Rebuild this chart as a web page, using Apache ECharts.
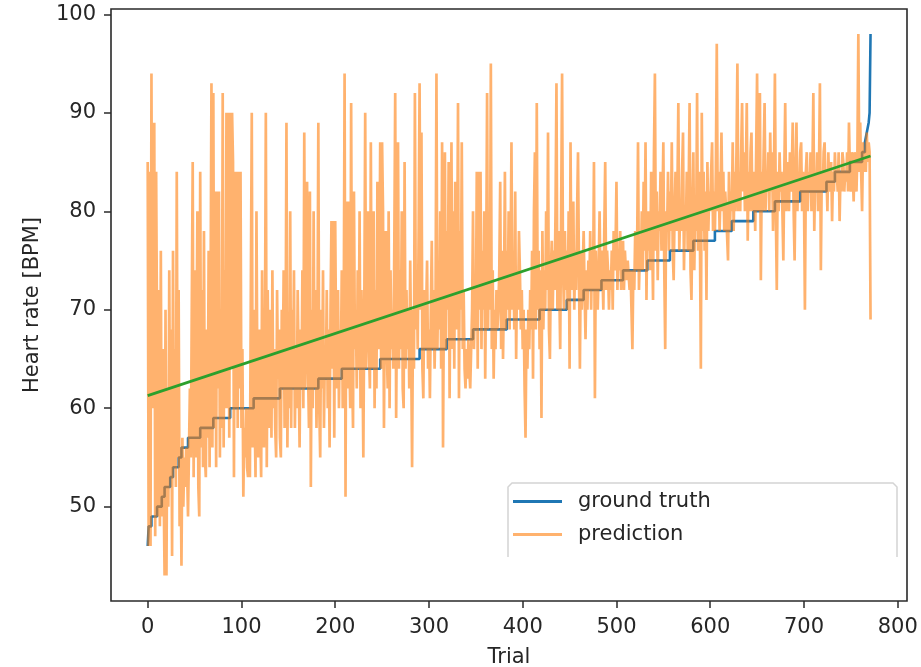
<!DOCTYPE html>
<html>
<head>
<meta charset="utf-8">
<script src="https://cdn.jsdelivr.net/npm/echarts@6/dist/echarts.min.js"></script>
<style>html,body{margin:0;padding:0;background:#fff}#c{width:921px;height:667px}</style>
</head>
<body>
<div id="c"></div>
<script>
// ---- data ----
const xTicks = [0, 100, 200, 300, 400, 500, 600, 700, 800];
const yTicks = [50, 60, 70, 80, 90, 100];

// ground truth (sorted heart rates), step breakpoints: trial where a level starts
const gtTrials = [0,1,4,10,15,18,24,27,33,36,43,56,70,88,113,141,182,207,248,290,319,347,383,418,447,465,484,507,533,557,582,605,623,646,669,696,724,733,749,762,765,767,769,770,771];
const gtValues = [46,48,49,50,51,52,53,54,55,56,57,58,59,60,61,62,63,64,65,66,67,68,69,70,71,72,73,74,75,76,77,78,79,80,81,82,83,84,85,86,87,88,89,90,98];

// prediction per trial (0..771)
const prediction = [
85,46,84,46,94,60,87,89,47,84,
84,49,72,48,76,49,66,52,43,70,
43,62,50,74,53,68,45,76,54,66,
52,84,55,72,48,56,44,57,50,55,
52,56,54,49,49,62,55,70,85,53,
74,55,66,80,52,49,84,56,72,54,
78,55,53,68,57,76,54,70,93,56,
92,58,82,54,82,62,82,55,70,58,
92,56,74,60,90,60,90,57,90,64,
90,85,53,84,60,84,58,84,62,84,
58,66,51,58,55,60,54,53,60,53,
72,90,56,70,60,53,80,62,55,68,
58,53,74,60,56,66,90,54,72,62,
58,70,57,74,60,66,58,55,72,63,
68,57,55,70,62,74,58,64,89,56,
68,60,80,58,70,62,74,58,66,60,
72,64,56,68,62,74,60,88,62,70,
83,64,58,82,52,70,60,80,62,72,
58,66,89,60,55,70,62,74,58,66,
63,72,60,68,56,70,79,64,79,57,
79,66,62,72,60,68,64,74,60,66,
94,51,81,62,81,66,60,91,64,58,
82,66,70,62,74,64,80,60,72,66,
55,70,90,64,74,80,66,62,87,64,
70,80,60,72,62,83,66,70,87,64,
87,80,58,72,78,66,62,80,60,74,
66,70,64,76,92,59,72,87,64,74,
66,80,62,60,85,64,72,66,70,62,
75,66,54,70,64,92,68,74,66,78,
93,70,88,64,61,72,66,70,75,64,
68,61,70,77,66,72,64,70,94,66,
74,68,80,64,87,56,72,86,66,78,
70,85,61,74,87,66,80,64,83,68,
74,91,61,78,70,87,66,72,64,62,
66,63,67,64,62,66,70,80,66,72,
68,84,64,84,70,84,66,76,70,80,
63,74,92,68,78,70,95,66,74,63,
70,66,72,68,70,74,83,66,76,65,
72,84,68,76,70,80,68,74,87,70,
76,68,82,65,74,70,78,74,68,72,
66,70,62,57,68,64,70,66,72,68,
76,63,80,86,68,91,70,76,66,74,
59,78,68,74,70,80,72,88,68,65,
74,77,70,76,72,80,93,70,78,72,
66,80,94,74,70,78,72,76,70,80,
64,87,72,78,81,70,76,72,80,86,
74,64,76,70,74,78,72,67,74,70,
75,72,78,70,76,72,85,61,76,72,
70,74,80,72,76,74,70,78,85,72,
76,74,70,74,72,76,70,78,74,76,
83,72,76,74,78,72,75,77,72,76,
74,73,75,75,72,74,70,66,74,72,
78,74,76,87,72,76,74,80,74,83,
76,87,71,80,76,80,74,84,78,71,
86,94,76,82,73,80,78,84,76,80,
87,74,66,80,78,84,76,82,78,87,
76,73,80,84,78,82,91,76,80,78,
84,88,74,80,78,84,76,82,91,74,
71,80,86,74,80,78,92,76,84,78,
64,90,78,84,76,82,71,85,78,82,
80,84,87,78,82,78,84,97,80,84,
78,82,88,80,84,78,82,80,80,75,
84,78,82,80,87,78,84,80,86,95,
80,84,80,86,91,82,86,80,84,91,
77,84,80,86,88,80,84,82,78,86,
94,80,86,92,73,84,80,86,91,80,
84,82,86,80,88,82,86,78,84,94,
80,72,84,80,86,82,84,80,75,84,
91,80,84,85,80,86,82,84,89,80,
75,84,89,80,84,82,86,87,80,84,
82,70,84,86,80,84,82,86,80,84,
92,78,84,82,86,80,84,93,74,84,
82,86,87,82,84,80,86,82,84,85,
79,84,82,86,83,84,82,86,79,84,
82,86,85,82,84,83,86,82,89,84,
82,86,84,81,86,84,82,86,98,84,
89,84,80,87,84,86,84,88,85,87,
86,69
];

// linear fit of the prediction (end points)
const fitTrials = [0, 771];
const fitValues = [61.27, 85.61];

// ---- build ----
const gtData = gtTrials.map((t, i) => [t, gtValues[i]]);
const predData = prediction.map((v, i) => [i, v]);
const fitData = fitTrials.map((t, i) => [t, fitValues[i]]);

const FONT = 'DejaVu Sans';
const INK = '#262626';
const chart = echarts.init(document.getElementById('c'), null, {renderer: 'canvas'});
chart.setOption({
  animation: false,
  backgroundColor: '#ffffff',
  grid: {left: 111, right: 14, top: 9, bottom: 66, containLabel: false, outerBoundsMode: 'none',
         show: true, borderColor: '#2a2a2a', borderWidth: 1.6, backgroundColor: 'transparent'},
  xAxis: {
    type: 'value', min: -39.15, max: 809.9,
    name: 'Trial', nameLocation: 'middle', nameGap: 46,
    nameTextStyle: {fontFamily: FONT, fontSize: 21, color: INK},
    axisLine: {show: false, onZero: false},
    splitLine: {show: false},
    axisTick: {show: true, length: 7, lineStyle: {color: '#2a2a2a', width: 1.5}, customValues: xTicks},
    axisLabel: {fontFamily: FONT, fontSize: 21, color: INK, margin: 16, customValues: xTicks}
  },
  yAxis: {
    type: 'value', min: 40.42, max: 100.54,
    name: 'Heart rate [BPM]', nameLocation: 'middle', nameGap: 68, nameRotate: 90,
    nameTextStyle: {fontFamily: FONT, fontSize: 21, color: INK},
    axisLine: {show: false, onZero: false},
    splitLine: {show: false},
    axisTick: {show: true, length: 7, lineStyle: {color: '#2a2a2a', width: 1.5}, customValues: yTicks},
    axisLabel: {fontFamily: FONT, fontSize: 21, color: INK, margin: 15, customValues: yTicks}
  },
  legend: {
    data: ['ground truth', 'prediction'],
    orient: 'vertical', left: 508, top: 490,
    padding: [0, 5, 0, 5],
    icon: 'rect', itemWidth: 49, itemHeight: 3, itemGap: 10,
    textStyle: {fontFamily: FONT, fontSize: 21, color: INK, padding: [0, 0, 0, 11], lineHeight: 23}
  },
  graphic: [{
    type: 'polyline', silent: true, z: 1,
    shape: {points: [[508, 557], [508, 487], [512, 483], [893, 483], [897, 487], [897, 557]]},
    style: {stroke: '#d4d4d4', lineWidth: 1.5, fill: null}
  }],
  series: [
    {name: 'ground truth', type: 'line', data: gtData, step: 'end', showSymbol: false, symbol: 'none',
     lineStyle: {color: '#1f77b4', width: 2.6}, itemStyle: {color: '#1f77b4'}, z: 2},
    {name: 'prediction', type: 'line', data: predData, showSymbol: false, symbol: 'none',
     lineStyle: {color: 'rgba(255,127,14,0.6)', width: 2.7}, itemStyle: {color: 'rgba(255,127,14,0.6)'}, z: 3},
    {name: 'fit', type: 'line', data: fitData, showSymbol: false, symbol: 'none',
     lineStyle: {color: '#2ca02c', width: 2.8}, itemStyle: {color: '#2ca02c'}, z: 4}
  ]
});
</script>
</body>
</html>
